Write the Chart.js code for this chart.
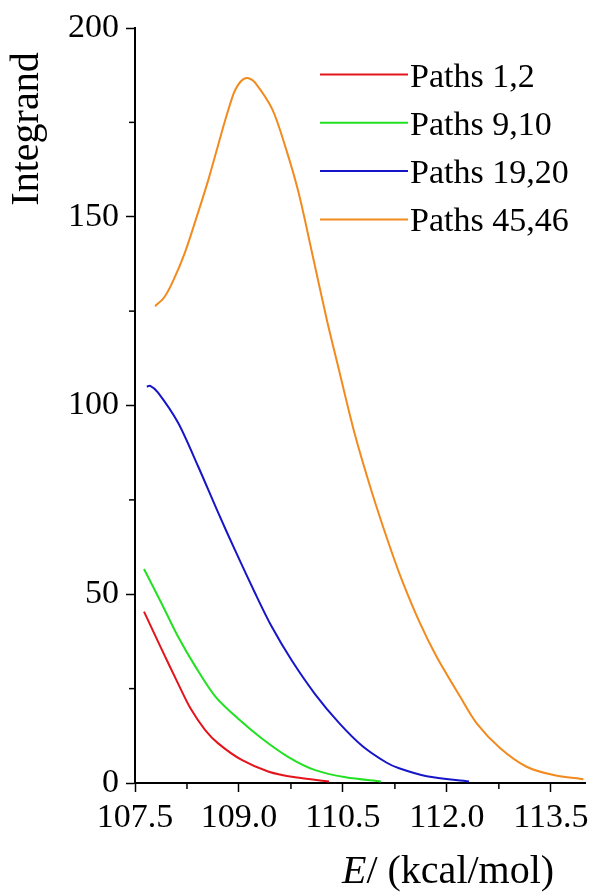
<!DOCTYPE html>
<html lang="en">
<head>
  <meta charset="UTF-8" />
  <title>Integrand vs E</title>
  <script src="https://cdn.jsdelivr.net/npm/chart.js"></script>
  <style>
    html, body {
      margin: 0;
      padding: 0;
      background: #fff;
    }
    canvas { display: block; }
  </style>
</head>
<body>
  <canvas id="integrandChart" width="595" height="894"></canvas>

  <script>
    // values: energy (kcal/mol) and integrand
    const seriesNames = ['Paths 1,2', 'Paths 9,10', 'Paths 19,20', 'Paths 45,46'];

    const path12E = [107.63, 107.88, 108.12, 108.30, 108.51, 108.70, 109.04, 109.43, 109.81, 110.30];
    const path12I = [45.4, 35.6, 26.4, 19.8, 14.1, 10.5, 6.1, 3.0, 1.5, 0.4];

    const path910E = [107.63, 107.88, 108.12, 108.37, 108.66, 108.99, 109.33, 109.72, 110.10, 110.54, 111.05];
    const path910I = [56.7, 47.7, 38.8, 30.9, 22.9, 17.0, 11.8, 6.8, 3.4, 1.5, 0.4];

    const path1920E = [107.67, 107.72, 107.83, 108.12, 108.41, 108.70, 108.94, 109.23, 109.47, 109.76, 110.10, 110.44, 110.78, 111.12, 111.31, 111.71, 112.32];
    const path1920I = [105.0, 105.2, 103.5, 95.5, 83.9, 71.6, 61.8, 50.4, 41.5, 32.5, 23.5, 16.0, 9.8, 5.5, 3.9, 1.8, 0.4];

    const path4546E = [107.79, 107.92, 108.05, 108.22, 108.41, 108.56, 108.70, 108.80, 108.92, 108.99, 109.06, 109.14, 109.23, 109.48, 109.67, 109.86, 110.06, 110.27, 110.43, 110.67, 110.91, 111.16, 111.35, 111.61, 111.85, 112.19, 112.43, 112.77, 113.15, 113.54, 113.97];
    const path4546I = [126.3, 128.6, 133.0, 140.5, 151.1, 159.9, 169.0, 175.5, 182.5, 185.0, 186.4, 186.7, 185.6, 178.5, 168.5, 156.4, 140.0, 122.5, 110.4, 92.5, 77.5, 63.5, 53.8, 42.4, 33.5, 22.9, 15.8, 9.2, 4.3, 2.1, 1.0];

    const xTicks = [107.5, 109.0, 110.5, 112.0, 113.5];
    const xMinor = [108.25, 109.75, 111.25, 112.75];
    const yTicks = [0, 50, 100, 150, 200];
    const yMinor = [25, 75, 125, 175];

    const colors = ['#e3141c', '#22e022', '#1616c8', '#f28a1e'];
    const serif = '"Liberation Serif", "Times New Roman", serif';

    function zip(es, vs) {
      return es.map((e, i) => ({ x: e, y: vs[i] }));
    }

    const allSeries = [
      zip(path12E, path12I),
      zip(path910E, path910I),
      zip(path1920E, path1920I),
      zip(path4546E, path4546I)
    ];

    // minor ticks, legend and axis titles
    const extras = {
      id: 'extras',
      afterDraw(chart) {
        const ctx = chart.ctx;
        const xs = chart.scales.x;
        const ys = chart.scales.y;
        const line = (x1, y1, x2, y2) => {
          ctx.beginPath();
          ctx.moveTo(x1, y1);
          ctx.lineTo(x2, y2);
          ctx.stroke();
        };
        ctx.save();
        ctx.strokeStyle = '#000';
        ctx.lineWidth = 1.5;
        yMinor.forEach(v => {
          const p = ys.getPixelForValue(v);
          line(ys.right - 6, p, ys.right, p);
        });
        xMinor.forEach(v => {
          const p = xs.getPixelForValue(v);
          line(p, xs.top, p, xs.top + 6);
        });

        // legend
        chart.data.datasets.forEach((ds, i) => {
          const y = 74.5 + i * 48.3;
          ctx.strokeStyle = ds.borderColor;
          ctx.lineWidth = 2;
          line(320, y, 408, y);
          ctx.fillStyle = '#000';
          ctx.font = '34px ' + serif;
          ctx.textAlign = 'left';
          ctx.textBaseline = 'alphabetic';
          ctx.fillText(ds.label, 410, y + 12);
        });

        // y title
        ctx.save();
        ctx.translate(38, 129);
        ctx.rotate(-Math.PI / 2);
        ctx.font = '40px ' + serif;
        ctx.textAlign = 'center';
        ctx.fillStyle = '#000';
        ctx.fillText('Integrand', 0, 0);
        ctx.restore();

        // x title
        ctx.fillStyle = '#000';
        ctx.textAlign = 'left';
        ctx.font = 'italic 40px ' + serif;
        ctx.fillText('E', 342, 883);
        const w = ctx.measureText('E').width;
        ctx.font = '40px ' + serif;
        ctx.fillText('/ (kcal/mol)', 342 + w, 883);
        ctx.restore();
      }
    };

    const chart = new Chart(document.getElementById('integrandChart'), {
      type: 'scatter',
      data: {
        datasets: allSeries.map((pts, i) => ({
          label: seriesNames[i],
          data: pts,
          borderColor: colors[i],
          backgroundColor: colors[i],
          borderWidth: 2,
          pointRadius: 0,
          showLine: true,
          tension: 0.3
        }))
      },
      options: {
        responsive: false,
        animation: false,
        layout: { padding: { top: 28, right: 7, left: 0, bottom: 0 } },
        plugins: {
          legend: { display: false },
          tooltip: { enabled: false }
        },
        scales: {
          x: {
            type: 'linear',
            min: 107.5,
            max: 114,
            afterBuildTicks: s => { s.ticks = xTicks.map(v => ({ value: v })); },
            afterFit: s => { s.height = 111; },
            grid: { drawOnChartArea: false, tickLength: 9, tickWidth: 1.5, tickColor: '#000' },
            border: { color: '#000', width: 2 },
            ticks: {
              color: '#000',
              padding: 6,
              maxRotation: 0,
              font: { family: serif, size: 34 },
              callback: v => v.toFixed(1)
            }
          },
          y: {
            min: 0,
            max: 200,
            afterBuildTicks: s => { s.ticks = yTicks.map(v => ({ value: v })); },
            afterFit: s => { s.width = 135; },
            grid: { drawOnChartArea: false, tickLength: 9, tickWidth: 1.5, tickColor: '#000' },
            border: { color: '#000', width: 2 },
            ticks: {
              color: '#000',
              padding: 7,
              font: { family: serif, size: 34 },
              callback: v => String(v)
            }
          }
        }
      },
      plugins: [extras]
    });
  </script>
</body>
</html>
